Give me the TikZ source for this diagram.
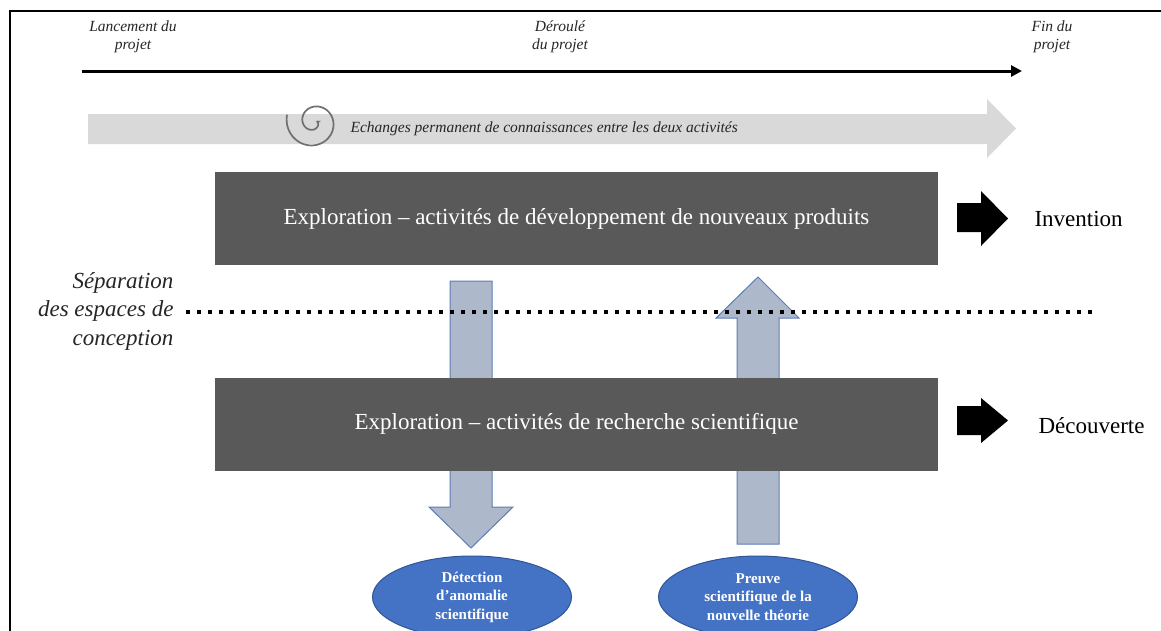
\documentclass[tikz,border=0pt]{standalone}
\usepackage{fontspec}
\setmainfont{Liberation Serif}
\usetikzlibrary{arrows.meta,shapes.geometric}
\definecolor{boxgray}{HTML}{595959}
\definecolor{lightarrow}{HTML}{D9D9D9}
\definecolor{bluegrayfill}{HTML}{ADB9CA}
\definecolor{bluegrayline}{HTML}{5B7DB5}
\definecolor{ellfill}{HTML}{4472C4}
\definecolor{elldraw}{HTML}{2F5597}
\definecolor{spiralc}{HTML}{6F6F6F}
\definecolor{labelc}{HTML}{262626}
\tikzset{
  darkbox/.style={fill=boxgray, text=white, minimum width=723pt, minimum height=93pt, inner sep=0pt,
    font=\fontsize{23}{27}\selectfont},
  toplabel/.style={align=center, text=labelc, font=\fontsize{15.5}{17.5}\selectfont\itshape},
  resultlabel/.style={anchor=west, text=black, font=\fontsize{23}{27}\selectfont},
  blockarrow/.style={fill=bluegrayfill, draw=bluegrayline, line width=1pt},
  blackarrow/.style={fill=black},
  outcome/.style={ellipse, fill=ellfill, draw=elldraw, line width=1pt, text=white, align=center,
    minimum width=199pt, minimum height=82pt, inner sep=0pt,
    font=\fontsize{15}{18.5}\selectfont\bfseries},
  sepline/.style={line width=4pt, dash pattern=on 4pt off 7pt},
}
\begin{document}
\begin{tikzpicture}[x=1pt,y=-1pt]
\useasboundingbox (0,0) rectangle (1161,630);
% frame
\draw[line width=2pt] (10,640) -- (10,11) -- (1170,11);

% time line
\coordinate (tstart) at (82,71);
\coordinate (tend) at (1022,71);
\draw[line width=3pt, -{Triangle[length=11pt,width=11pt]}] (tstart) -- (tend);
\node[toplabel] (lanc) at (133,37) {Lancement du\\projet};
\node[toplabel] (der) at (560,37) {Déroulé\\du projet};
\node[toplabel] (fin) at (1052,37) {Fin du\\projet};

% big grey arrow
\fill[lightarrow] (88,114) -- (987,114) -- (987,99) -- (1016,128.5) -- (987,158) -- (987,144) -- (88,144) -- cycle;
\draw[spiralc, line width=1.7pt, -{Stealth[length=4pt,width=5pt]}]
  plot[smooth, samples=160, domain=555:-20, variable=\t]
  ({314+(3.5+0.044*\t)*cos(\t)}, {122+(3.5+0.044*\t)*sin(\t)});
\node[anchor=west, text=labelc, font=\fontsize{15.5}{18}\selectfont\itshape] (echanges) at (347,129)
  {Echanges permanent de connaissances entre les deux activités};

% vertical block arrows (behind boxes)
\draw[blockarrow] (450,281) -- (492,281) -- (492,507) -- (513,507) -- (471,548) -- (429,507) -- (450,507) -- cycle;
\draw[blockarrow] (758,277) -- (799,318) -- (779,318) -- (779,544) -- (737,544) -- (737,318) -- (716,318) -- cycle;

% separation line
\coordinate (sepA) at (186,312);
\coordinate (sepB) at (1094,312);
\draw[sepline] (sepA) -- (sepB);
\node[anchor=east, align=right, text=labelc, font=\fontsize{23}{28.5}\selectfont\itshape] (sep) at (177,311)
  {Séparation\\des espaces de\\conception};

% boxes
\node[darkbox] (dev) at (576.5,218.5) {Exploration -- activités de développement de nouveaux produits};
\node[darkbox] (rech) at (576.5,424) {Exploration -- activités de recherche scientifique};

% black arrows and results
\fill[blackarrow] (957,203) -- (981,203) -- (981,191) -- (1008,218.5) -- (981,246) -- (981,232) -- (957,232) -- cycle;
\fill[blackarrow] (957,406) -- (981,406) -- (981,398) -- (1008,420.5) -- (981,443) -- (981,435) -- (957,435) -- cycle;
\node[resultlabel] (inv) at (1031,219) {Invention};
\node[resultlabel] (dec) at (1035,426) {Découverte};

% outcome ellipses
\node[outcome] (anom) at (472,597) {Détection\\d’anomalie\\scientifique};
\node[outcome] (preuve) at (758,597) {Preuve\\scientifique de la\\nouvelle théorie};
\end{tikzpicture}
\end{document}
